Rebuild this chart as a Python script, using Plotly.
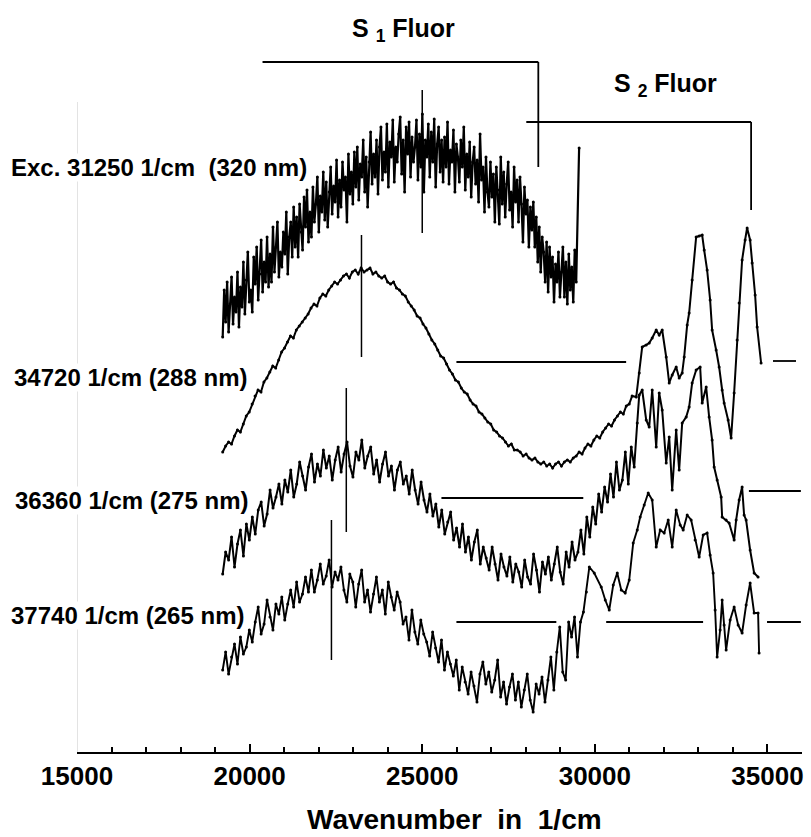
import numpy as np
import plotly.graph_objects as go

# ---------------- data (wavenumber in 1/cm, intensity in arbitrary offset units) ----------------
# Trace 1: excitation 31250 1/cm, evenly sampled grid + final point
t1_w_start, t1_w_end = 19220, 29460
t1_vals = [415, 462, 430, 470, 420, 448, 475, 428, 455, 440,
           480, 425, 465, 445, 490, 438, 472, 500, 450, 462,
           440, 495, 468, 505, 452, 478, 512, 460, 490, 470,
           515, 465, 498, 470, 525, 480, 505, 530, 475, 500,
           485, 520, 498, 540, 478, 515, 530, 495, 545, 505,
           535, 495, 548, 520, 502, 555, 525, 562, 510, 540,
           515, 565, 530, 548, 575, 520, 556, 540, 580, 532,
           570, 525, 560, 585, 538, 566, 550, 592, 535, 572,
           545, 590, 562, 575, 530, 598, 558, 580, 548, 600,
           565, 605, 552, 588, 575, 612, 560, 595, 545, 590,
           620, 568, 598, 575, 612, 558, 605, 625, 572, 600,
           580, 628, 565, 610, 595, 632, 570, 605, 590, 618,
           635, 578, 612, 560, 625, 598, 630, 575, 615, 590,
           605, 632, 572, 618, 585, 638, 560, 612, 595, 628,
           575, 620, 590, 633, 565, 608, 625, 580, 612, 570,
           615, 585, 630, 568, 602, 590, 622, 560, 608, 595,
           570, 612, 585, 625, 562, 598, 575, 610, 555, 590,
           605, 568, 592, 550, 618, 572, 585, 540, 595, 560,
           545, 590, 555, 578, 530, 585, 562, 528, 595, 548,
           580, 535, 568, 590, 542, 560, 525, 585, 550, 572,
           530, 575, 548, 510, 565, 538, 552, 505, 545, 522,
           550, 505, 535, 490, 525, 480, 515, 500, 470, 510,
           460, 505, 475, 495, 450, 488, 470, 500, 455, 480,
           505, 455, 490, 448, 498, 462, 485, 450, 502, 470]
t1_tail_w = [29544]
t1_tail_vals = [604]

# Trace 2: excitation 34720 1/cm
t2_w_start, t2_w_end = 19220, 31080
t2_vals = [300, 306, 310, 308, 316, 322, 320, 328, 336, 340,
           348, 356, 362, 360, 370, 374, 380, 386, 384, 392,
           400, 404, 410, 416, 414, 422, 426, 430, 434, 438,
           444, 448, 446, 454, 458, 456, 462, 466, 470, 468,
           472, 476, 478, 474, 480, 482, 478, 484, 480, 482,
           484, 478, 480, 476, 474, 476, 470, 468, 470, 464,
           462, 458, 456, 450, 446, 442, 436, 434, 428, 424,
           418, 412, 408, 402, 396, 394, 388, 382, 378, 372,
           370, 364, 360, 358, 352, 348, 346, 340, 338, 334,
           330, 328, 322, 320, 316, 314, 310, 306, 308, 302,
           302, 300, 296, 298, 294, 292, 294, 290, 288, 290,
           286, 288, 284, 288, 290, 286, 290, 292, 290, 294,
           296, 300, 298, 304, 308, 306, 312, 316, 314, 320,
           324, 328, 326, 332, 336, 340, 338, 346, 348, 356]
t2_tail_w = [31198, 31285, 31371, 31487, 31574, 31661, 31777, 31863, 31950, 32066,
             32153, 32240, 32355, 32442, 32529, 32587, 32674, 32731, 32818, 32934,
             33021, 33108, 33166, 33252, 33339, 33397, 33513, 33600, 33687, 33744,
             33860, 33947, 34034, 34121, 34179, 34265, 34352, 34410, 34497, 34555,
             34642, 34700, 34815]
t2_tail_vals = [355, 379, 405, 407, 409, 414, 422, 417, 422, 395,
                369, 377, 385, 374, 379, 395, 427, 439, 472, 515,
                516, 517, 502, 482, 452, 422, 402, 385, 362, 349,
                332, 314, 359, 412, 449, 492, 512, 524, 512, 489,
                457, 425, 389]

# Trace 3: excitation 36360 1/cm
t3_w_start, t3_w_end = 19220, 31140
t3_vals = [178, 200, 192, 215, 185, 208, 222, 196, 228, 212,
           235, 218, 242, 250, 226, 238, 262, 244, 255, 268,
           248, 272, 260, 282, 255, 268, 290, 276, 262, 285,
           298, 270, 288, 276, 302, 284, 296, 272, 292, 305,
           280, 298, 310, 286, 275, 300, 292, 312, 284, 296,
           305, 278, 292, 270, 288, 300, 276, 286, 262, 282,
           290, 268, 276, 258, 282, 262, 248, 270, 252, 240,
           258, 236, 248, 225, 242, 218, 230, 240, 212, 224,
           205, 228, 200, 215, 192, 210, 222, 188, 205, 194,
           182, 205, 188, 172, 198, 185, 176, 195, 170, 188,
           180, 165, 192, 175, 168, 198, 182, 160, 190, 178,
           195, 172, 188, 205, 180, 168, 200, 185, 210, 192,
           200, 222, 198, 235, 215, 245, 228, 258, 240, 265,
           250, 278, 255, 290, 262, 272, 300, 268, 305, 285]
t3_tail_w = [31227, 31285, 31371, 31487, 31574, 31661, 31777, 31863, 31950, 32066,
             32153, 32240, 32355, 32442, 32529, 32645, 32731, 32818, 32934, 33050,
             33108, 33224, 33310, 33397, 33455, 33542, 33658, 33687, 33802, 33889,
             34034, 34092, 34179, 34265, 34323, 34381, 34497, 34613, 34728]
t3_tail_vals = [329, 357, 362, 332, 325, 362, 305, 359, 342, 289,
                315, 262, 322, 282, 329, 335, 345, 369, 382, 385,
                349, 365, 335, 312, 285, 272, 255, 235, 232, 229,
                212, 232, 252, 265, 237, 232, 202, 179, 175]

# Trace 4: excitation 37740 1/cm
t4_w_start, t4_w_end = 19220, 29840
t4_vals = [82, 100, 78, 95, 108, 88, 115, 98, 105, 122,
           110, 130, 145, 118, 128, 152, 135, 122, 148, 138,
           155, 132, 148, 162, 145, 170, 150, 158, 175, 160,
           182, 160, 172, 188, 168, 176, 192, 165, 180, 172,
           185, 162, 150, 178, 170, 145, 168, 182, 150, 162,
           140, 158, 175, 150, 162, 138, 170, 155, 142, 160,
           150, 128, 135, 112, 142, 120, 108, 132, 118, 110,
           96, 120, 104, 90, 112, 82, 100, 88, 76, 92,
           62, 85, 70, 58, 80, 66, 50, 78, 90, 68,
           80, 60, 72, 92, 55, 70, 48, 65, 78, 52,
           70, 45, 62, 78, 52, 40, 68, 58, 75, 50,
           72, 95, 62, 100, 125, 80, 72, 130, 115, 135,
           95, 130, 140, 160, 185]
t4_tail_w = [29982, 30185, 30301, 30416, 30532, 30648, 30764, 30879, 30995, 31111,
             31227, 31313, 31429, 31545, 31661, 31777, 31892, 32008, 32124, 32240,
             32355, 32471, 32558, 32674, 32789, 32905, 33021, 33137, 33252, 33339,
             33426, 33484, 33542, 33629, 33687, 33744, 33802, 33918, 34034, 34150,
             34265, 34381, 34497, 34613, 34728, 34757]
t4_tail_vals = [179, 165, 152, 142, 167, 179, 162, 159, 172, 209,
                222, 235, 247, 259, 252, 205, 222, 219, 232, 205,
                242, 227, 222, 237, 232, 212, 195, 217, 219, 197,
                179, 142, 95, 122, 152, 127, 102, 132, 145, 127,
                119, 147, 169, 139, 139, 99]

# Peak marker lines (wavenumber, low, high)
peak_w = [25000, 23240, 22800, 22370]
peak_lo = [519, 395, 220, 92]
peak_hi = [662, 517, 364, 232]

# S2 baseline segments (start, end, level)
base_w0 = [25990, 35160, 25556, 34462, 25990, 30328, 34987]
base_w1 = [30906, 35826, 29665, 35967, 28884, 33135, 35967]
base_lv = [390, 391, 254, 261, 130, 130, 130]

# Assignment brackets
s1_w = [20374, 28362]
s1_lv = [690, 585]
s2_w = [28014, 34526]
s2_lv = [630, 542]

labels = ["Exc. 31250 1/cm\u00a0\u00a0(320 nm)", "34720 1/cm (288 nm)",
          "36360 1/cm (275 nm)", "37740 1/cm (265 nm)"]
label_w = [21677, 19940, 19969, 19853]
label_y = [585, 375, 252, 137]

tick_vals = [15000, 20000, 25000, 30000, 35000]

# ---------------- figure ----------------
FONT = "Arial, Liberation Sans, sans-serif"
fig = go.Figure()

series = [
    (t1_w_start, t1_w_end, t1_vals, t1_tail_w, t1_tail_vals, 2.2),
    (t2_w_start, t2_w_end, t2_vals, t2_tail_w, t2_tail_vals, 2.0),
    (t3_w_start, t3_w_end, t3_vals, t3_tail_w, t3_tail_vals, 2.0),
    (t4_w_start, t4_w_end, t4_vals, t4_tail_w, t4_tail_vals, 1.9),
]
for w0, w1, vals, tw, tv, lw in series:
    xs = list(np.linspace(w0, w1, len(vals))) + list(tw)
    ys = list(vals) + list(tv)
    fig.add_trace(go.Scatter(x=xs, y=ys, mode="lines+markers",
                             line=dict(color="black", width=lw),
                             marker=dict(color="black", size=3),
                             showlegend=False, hoverinfo="skip"))

shapes = []
# faint y axis line
shapes.append(dict(type="line", xref="x", yref="y", x0=15000, x1=15000, y0=0, y1=650,
                   line=dict(color="#c8c8c8", width=1), layer="below"))
for w, lo, hi in zip(peak_w, peak_lo, peak_hi):
    shapes.append(dict(type="line", xref="x", yref="y", x0=w, x1=w, y0=lo, y1=hi,
                       line=dict(color="black", width=1.5)))
for a, b, lv in zip(base_w0, base_w1, base_lv):
    shapes.append(dict(type="line", xref="x", yref="y", x0=a, x1=b, y0=lv, y1=lv,
                       line=dict(color="black", width=1.8)))
for bw, blv in ((s1_w, s1_lv), (s2_w, s2_lv)):
    shapes.append(dict(type="line", xref="x", yref="y", x0=bw[0], x1=bw[1], y0=blv[0], y1=blv[0],
                       line=dict(color="black", width=1.8)))
    shapes.append(dict(type="line", xref="x", yref="y", x0=bw[1], x1=bw[1], y0=blv[0], y1=blv[1],
                       line=dict(color="black", width=1.8)))

annotations = []
for txt, w, y in zip(labels, label_w, label_y):
    annotations.append(dict(x=w, y=y, xref="x", yref="y", text=txt, showarrow=False,
                            xanchor="right", yanchor="middle", bgcolor="white", borderpad=0,
                            font=dict(family=FONT, size=24, color="black", weight="bold")))
annotations.append(dict(x=24455, y=722, xref="x", yref="y", text="S <sub>1</sub> Fluor",
                        showarrow=False, xanchor="center", yanchor="middle",
                        font=dict(family=FONT, size=25, color="black", weight="bold")))
annotations.append(dict(x=32035, y=667, xref="x", yref="y", text="S <sub>2</sub> Fluor",
                        showarrow=False, xanchor="center", yanchor="middle",
                        font=dict(family=FONT, size=25, color="black", weight="bold")))
annotations.append(dict(x=25930, y=-0.0904, xref="x", yref="paper",
                        text="Wavenumber\u00a0\u00a0in\u00a0\u00a01/cm",
                        showarrow=False, xanchor="center", yanchor="middle",
                        font=dict(family=FONT, size=28, color="black", weight="bold")))

fig.update_layout(
    width=811, height=837,
    margin=dict(l=77, r=9, t=0, b=85),
    paper_bgcolor="white", plot_bgcolor="white",
    shapes=shapes, annotations=annotations,
    xaxis=dict(range=[15000, 36000], showgrid=False, zeroline=False,
               showline=True, linecolor="black", linewidth=2,
               ticks="inside", ticklen=8, tickwidth=1.5, tickcolor="black",
               tickvals=tick_vals, ticktext=[str(v) for v in tick_vals],
               tickfont=dict(family=FONT, size=26, color="black", weight="bold"),
               minor=dict(dtick=1000, tick0=15000, ticks="inside", ticklen=5,
                          tickwidth=1.5, tickcolor="black", showgrid=False)),
    yaxis=dict(range=[0, 752], visible=False, showgrid=False, zeroline=False),
)

fig.write_html("out.html")
